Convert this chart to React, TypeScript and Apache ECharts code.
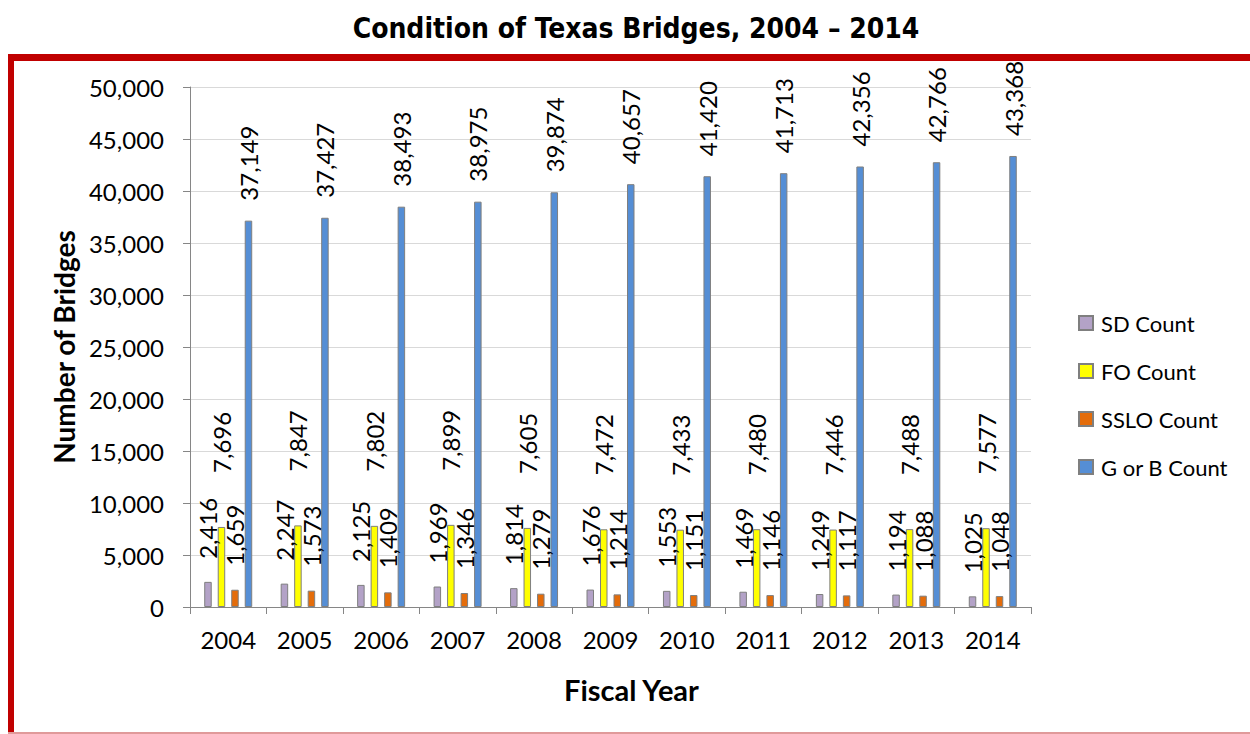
import React, { useEffect, useRef } from "react";
import * as echarts from "echarts";

const years = ["2004", "2005", "2006", "2007", "2008", "2009", "2010", "2011", "2012", "2013", "2014"];
const sdCount = [2416, 2247, 2125, 1969, 1814, 1676, 1553, 1469, 1249, 1194, 1025];
const foCount = [7696, 7847, 7802, 7899, 7605, 7472, 7433, 7480, 7446, 7488, 7577];
const ssloCount = [1659, 1573, 1409, 1346, 1279, 1214, 1151, 1146, 1117, 1088, 1048];
const gbCount = [37149, 37427, 38493, 38975, 39874, 40657, 41420, 41713, 42356, 42766, 43368];

const seriesNames = ["SD Count", "FO Count", "SSLO Count", "G or B Count"];
const seriesColors = ["#B3A2C7", "#FFFF00", "#E46C0A", "#558ED5"];
const labelDistances = [23, 54, 24, 20];

const FONT = "Lato, 'Open Sans', sans-serif";

export default function App() {
  const ref = useRef<HTMLDivElement>(null);
  useEffect(() => {
    if (!ref.current) return;
    const chart = echarts.init(ref.current, null, { renderer: "svg" });
    const allData = [sdCount, foCount, ssloCount, gbCount];
    chart.setOption({
      animation: false,
      backgroundColor: "#FFFFFF",
      textStyle: { fontFamily: FONT },
      title: {
        text: "Condition of Texas Bridges, 2004 \u2013 2014",
        left: 631,
        top: 9,
        textAlign: "center",
        textStyle: {
          fontFamily: "'Liberation Sans Narrow', 'DejaVu Sans Condensed', sans-serif",
          fontWeight: "bold",
          fontSize: 28,
          color: "#000000",
        },
      },
      graphic: [
        { type: "rect", shape: { x: 8, y: 54, width: 1242, height: 7 }, style: { fill: "#C00000" }, silent: true },
        { type: "rect", shape: { x: 8, y: 54, width: 6, height: 680 }, style: { fill: "#C00000" }, silent: true },
        { type: "rect", shape: { x: 8, y: 732, width: 1242, height: 2 }, style: { fill: "#E09A9A" }, silent: true },
      ],
      legend: {
        orient: "vertical",
        left: 1073,
        top: 307,
        itemWidth: 14,
        itemHeight: 14,
        itemGap: 26,
        icon: "rect",
        textStyle: { fontFamily: FONT, fontSize: 22, color: "#000000", padding: [0, 0, 0, 3] },
        data: seriesNames,
      },
      grid: { left: 190, right: 219, top: 87, bottom: 127, containLabel: false },
      xAxis: {
        type: "category",
        data: years,
        name: "Fiscal Year",
        nameLocation: "middle",
        nameGap: 68,
        nameTextStyle: { fontFamily: FONT, fontWeight: "bold", fontSize: 29, color: "#000000", padding: [0, 0, 0, 42] },
        axisLine: { lineStyle: { color: "#868686", width: 1 } },
        axisTick: { show: true, length: 7, lineStyle: { color: "#868686" } },
        axisLabel: { fontFamily: FONT, fontSize: 24, color: "#000000", margin: 20 },
      },
      yAxis: {
        type: "value",
        min: 0,
        max: 50000,
        interval: 5000,
        name: "Number of Bridges",
        nameLocation: "middle",
        nameGap: 108,
        nameRotate: 90,
        nameTextStyle: { fontFamily: FONT, fontWeight: "bold", fontSize: 28, color: "#000000" },
        axisLine: { show: true, lineStyle: { color: "#868686", width: 1 } },
        axisTick: { show: true, length: 7, lineStyle: { color: "#868686" } },
        axisLabel: {
          fontFamily: FONT,
          fontSize: 24,
          color: "#000000",
          margin: 26,
          formatter: (v: number) => v.toLocaleString("en-US"),
        },
        splitLine: { lineStyle: { color: "#D9D9D9", width: 1 } },
      },
      series: seriesNames.map((name, i) => ({
        name,
        type: "bar",
        data: allData[i],
        barWidth: 7.5,
        barGap: "80%",
        itemStyle: { color: seriesColors[i], borderColor: "#7F7F7F", borderWidth: 1 },
        label: {
          show: true,
          position: "top",
          rotate: 90,
          align: "left",
          verticalAlign: "middle",
          distance: labelDistances[i],
          fontFamily: FONT,
          fontSize: 24,
          color: "#000000",
          formatter: (p: any) => Number(p.value).toLocaleString("en-US"),
        },
      })),
    });
    return () => chart.dispose();
  }, []);
  return <div ref={ref} style={{ position: "fixed", left: 0, top: 0, width: 1250, height: 734 }} />;
}
